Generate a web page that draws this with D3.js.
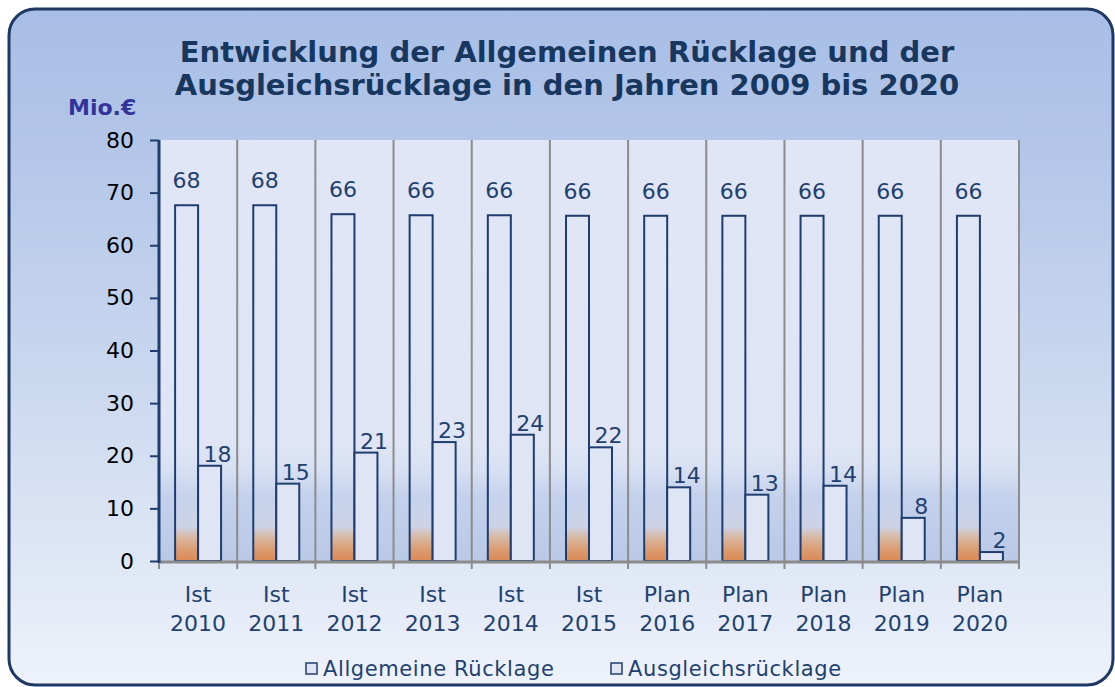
<!DOCTYPE html>
<html>
<head>
<meta charset="utf-8">
<script src="https://cdn.jsdelivr.net/npm/d3@7"></script>
<style>
  html, body { margin: 0; padding: 0; background: #fff; }
  svg { display: block; font-family: "DejaVu Sans", Verdana, sans-serif; }
</style>
</head>
<body>
<svg id="chart" width="1115" height="687"></svg>
<script>
const stages = ["Ist", "Ist", "Ist", "Ist", "Ist", "Ist", "Plan", "Plan", "Plan", "Plan", "Plan"];
const years = ["2010", "2011", "2012", "2013", "2014", "2015", "2016", "2017", "2018", "2019", "2020"];
const allgemeine = [67.6, 67.6, 65.9, 65.7, 65.7, 65.6, 65.6, 65.6, 65.6, 65.6, 65.6];
const ausgleich = [18.1, 14.7, 20.6, 22.6, 24.0, 21.6, 14.0, 12.6, 14.3, 8.2, 1.7];
const seriesNames = ["Allgemeine Rücklage", "Ausgleichsrücklage"];
const yTicks = [0, 10, 20, 30, 40, 50, 60, 70, 80];
const titleLines = ["Entwicklung der Allgemeinen Rücklage und der", "Ausgleichsrücklage in den Jahren 2009 bis 2020"];

const Chart = {
    navy: "#17375e",
    init: function() {
        this.svg = d3.select("#chart");
        this._defs();
        this._panel();
        this._plot();
        this._legend();
    },
    _defs: function() {
        const defs = this.svg.append("defs");
        const pg = defs.append("linearGradient")
            .attr("id", "panelGrad")
            .attr("x1", 0).attr("y1", 0).attr("x2", 0).attr("y2", 1);
        pg.append("stop").attr("offset", "0").attr("stop-color", "#a8bee6");
        pg.append("stop").attr("offset", "0.2").attr("stop-color", "#b3c6e8");
        pg.append("stop").attr("offset", "0.55").attr("stop-color", "#cad8ef");
        pg.append("stop").attr("offset", "0.85").attr("stop-color", "#e2e9f6");
        pg.append("stop").attr("offset", "1").attr("stop-color", "#eef2fa");
    },
    _panel: function() {
        this.svg.append("rect")
            .attr("x", 9).attr("y", 9)
            .attr("width", 1104).attr("height", 676)
            .attr("rx", 26).attr("ry", 26)
            .attr("fill", "url(#panelGrad)")
            .attr("stroke", "#1f3864")
            .attr("stroke-width", 3);

        const title = this.svg.append("text")
            .attr("text-anchor", "middle")
            .attr("font-size", 29)
            .attr("font-weight", "bold")
            .attr("fill", this.navy);
        titleLines.forEach((t, i) => {
            title.append("tspan").attr("x", 567).attr("y", 62 + i * 33).text(t);
        });

        this.svg.append("text")
            .attr("x", 68).attr("y", 115)
            .attr("font-size", 22)
            .attr("font-weight", "bold")
            .attr("fill", "#333399")
            .text("Mio.€");
    },
    _plot: function() {
        const left = 159, right = 1019, top = 140, bottom = 561;
        const x0 = d3.scaleBand().domain(years).range([left, right]).padding(0);
        const x1 = d3.scaleBand().domain([0, 1]).range([0, x0.bandwidth()]).paddingInner(0).paddingOuter(0.7);
        const y = d3.scaleLinear().domain([0, 80]).range([bottom, top]);

        // background + bar gradients in plot coordinates
        const defs = this.svg.select("defs");
        const bg = defs.append("linearGradient")
            .attr("id", "plotGrad").attr("gradientUnits", "userSpaceOnUse")
            .attr("x1", 0).attr("x2", 0).attr("y1", y(80)).attr("y2", y(0));
        const bgStops = [[80, "#e0e6f5"], [22, "#dfe5f4"], [17, "#d6dff2"], [12, "#c3d1ec"], [0, "#b9c9e6"]];
        bgStops.forEach(s => bg.append("stop").attr("offset", (y(s[0]) - y(80)) / (y(0) - y(80))).attr("stop-color", s[1]));

        const bar = defs.append("linearGradient")
            .attr("id", "barGrad").attr("gradientUnits", "userSpaceOnUse")
            .attr("x1", 0).attr("x2", 0).attr("y1", y(80)).attr("y2", y(0));
        const barStops = [[80, "#e0e6f5"], [22, "#dfe5f4"], [17, "#d6dff2"], [12, "#c6d2ec"], [6.5, "#cdd3e6"], [4.5, "#d8b8a2"], [2, "#db9a6e"], [0, "#dc8a55"]];
        barStops.forEach(s => bar.append("stop").attr("offset", (y(s[0]) - y(80)) / (y(0) - y(80))).attr("stop-color", s[1]));

        this.svg.append("rect")
            .attr("x", left).attr("y", top)
            .attr("width", right - left).attr("height", bottom - top)
            .attr("fill", "url(#plotGrad)");

        // category separators
        const edges = years.map(d => x0(d)).concat([right]);
        this.svg.append("g").selectAll("line")
            .data(edges.slice(1))
            .enter().append("line")
            .attr("x1", d => d).attr("x2", d => d)
            .attr("y1", top).attr("y2", bottom)
            .attr("stroke", "#8c8c8c").attr("stroke-width", 2);

        const data = years.map((yr, i) => ({ year: yr, vals: [allgemeine[i], ausgleich[i]] }));
        const groups = this.svg.append("g").selectAll("g")
            .data(data)
            .enter().append("g")
            .attr("transform", d => "translate(" + x0(d.year) + ",0)");

        groups.selectAll("rect")
            .data(d => d.vals.map((v, k) => ({ k: k, v: v })))
            .enter().append("rect")
            .attr("x", d => x1(d.k))
            .attr("y", d => y(d.v))
            .attr("width", x1.bandwidth())
            .attr("height", d => y(0) - y(d.v))
            .attr("fill", d => d.k === 0 ? "url(#barGrad)" : "#dfe5f4")
            .attr("stroke", "#1f3d6e")
            .attr("stroke-width", 2);

        groups.selectAll("text")
            .data(d => d.vals.map((v, k) => ({ k: k, v: v })))
            .enter().append("text")
            .attr("x", d => x1(d.k) + x1.bandwidth() / 2 + (d.k === 1 ? 8 : 0))
            .attr("y", d => y(d.v) - (d.k === 0 ? 17 : 4))
            .attr("text-anchor", "middle")
            .attr("font-size", 22)
            .attr("fill", "#1f4170")
            .text(d => d3.format(".0f")(d.v));

        // x axis
        this.svg.append("line")
            .attr("x1", left).attr("x2", right)
            .attr("y1", bottom + 1).attr("y2", bottom + 1)
            .attr("stroke", "#8c8c8c").attr("stroke-width", 3);
        this.svg.append("g").selectAll("line")
            .data(edges)
            .enter().append("line")
            .attr("x1", d => d).attr("x2", d => d)
            .attr("y1", bottom).attr("y2", bottom + 8)
            .attr("stroke", "#8c8c8c").attr("stroke-width", 2);

        const xl = this.svg.append("g").selectAll("text")
            .data(years)
            .enter().append("text")
            .attr("text-anchor", "middle")
            .attr("font-size", 22)
            .attr("fill", "#1f4170");
        xl.append("tspan")
            .attr("x", d => x0(d) + x0.bandwidth() / 2)
            .attr("y", 602)
            .text((d, i) => stages[i]);
        xl.append("tspan")
            .attr("x", d => x0(d) + x0.bandwidth() / 2)
            .attr("y", 631)
            .text(d => d);

        // y axis
        const yAxis = d3.axisLeft(y).tickValues(yTicks).tickSize(9).tickPadding(16);
        const ya = this.svg.append("g")
            .attr("transform", "translate(" + left + ",0)")
            .call(yAxis);
        ya.select(".domain").attr("stroke", "#1f3d6e").attr("stroke-width", 3)
            .attr("d", "M0," + top + "V" + (bottom + 2));
        ya.selectAll(".tick line").attr("stroke", "#1f3d6e").attr("stroke-width", 2);
        ya.selectAll(".tick text")
            .attr("font-size", 22)
            .attr("font-family", "DejaVu Sans, Verdana, sans-serif")
            .attr("fill", "#000");
    },
    _legend: function() {
        const starts = [306, 611];
        const lg = this.svg.append("g").selectAll("g")
            .data(seriesNames)
            .enter().append("g")
            .attr("transform", (d, i) => "translate(" + starts[i] + ",0)");
        lg.append("rect")
            .attr("x", 0).attr("y", 663)
            .attr("width", 11).attr("height", 11)
            .attr("fill", "#dfe5f4")
            .attr("stroke", "#1f3d6e").attr("stroke-width", 1.5);
        lg.append("text")
            .attr("x", 17).attr("y", 676)
            .attr("font-size", 21)
            .attr("letter-spacing", 0.6)
            .attr("fill", "#1f4170")
            .text(d => d);
    }
};

Chart.init();
</script>
</body>
</html>
